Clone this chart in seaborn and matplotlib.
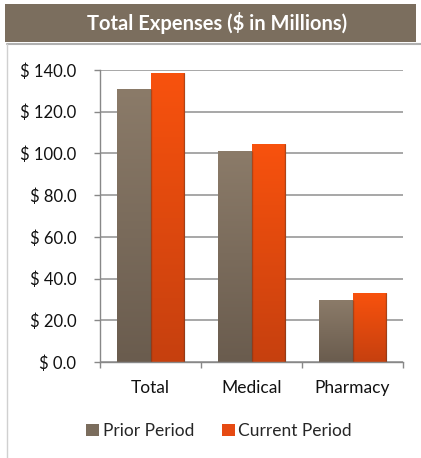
import matplotlib
matplotlib.use("Agg")
import matplotlib.pyplot as plt
import seaborn as sns
import pandas as pd
import numpy as np
from matplotlib.patches import Rectangle
from matplotlib.lines import Line2D
from matplotlib.colors import LinearSegmentedColormap, to_rgb

categories = ["Total", "Medical", "Pharmacy"]
series = ["Prior Period", "Current Period"]
prior_values = [131.0, 101.0, 29.5]
current_values = [138.5, 104.5, 33.0]
yticks = [0, 20, 40, 60, 80, 100, 120, 140]
ytick_labels = ["$ 0.0", "$ 20.0", "$ 40.0", "$ 60.0", "$ 80.0", "$ 100.0", "$ 120.0", "$ 140.0"]
title = "Total Expenses ($ in Millions)"

colors = {"Prior Period": "#7b6d5d", "Current Period": "#e64a12"}
grad = {"Prior Period": ("#6a5c4e", "#8b7b69"), "Current Period": ("#c6400f", "#f8520d")}

df = pd.DataFrame({
    "category": categories * 2,
    "series": [series[0]] * 3 + [series[1]] * 3,
    "value": prior_values + current_values,
})

sns.set_theme(style="white")
plt.rcParams["font.family"] = ["Lato", "DejaVu Sans"]

fig = plt.figure(figsize=(4.21, 4.58), dpi=100)
W, H = 421, 458
ax = fig.add_axes([100 / W, 1 - 362 / H, (403 - 100) / W, (362 - 70) / H])

sns.barplot(data=df, x="category", y="value", hue="series", order=categories,
            hue_order=series, palette=colors, ax=ax, width=0.66, saturation=1,
            legend=False, edgecolor="none")

ax.set_ylim(0, 140)
ax.set_xlim(-0.5, 2.5)

# vertical gradient fill on each bar, clipped to the bar patch
bars = [p for p in ax.patches if isinstance(p, Rectangle)]
for i, p in enumerate(bars):
    s = series[i // len(categories)]
    cmap = LinearSegmentedColormap.from_list("g", [to_rgb(grad[s][0]), to_rgb(grad[s][1])])
    x0, y0 = p.get_x(), p.get_y()
    w, h = p.get_width(), p.get_height()
    g = np.linspace(0, 1, 256).reshape(-1, 1)
    im = ax.imshow(g, cmap=cmap, origin="lower", aspect="auto",
                   extent=[x0, x0 + w, y0, y0 + h], zorder=p.get_zorder() + 0.1)
    im.set_clip_path(p)
    ax.plot([x0 + w, x0 + w], [y0, y0 + h], color="#3a2f25", alpha=0.35, lw=1,
            zorder=p.get_zorder() + 0.2, solid_capstyle="butt")
ax.set_xlim(-0.5, 2.5)
ax.set_ylim(0, 140)

ax.set_yticks(yticks)
ax.set_yticklabels(ytick_labels, fontsize=12, color="#111111")
ax.set_xticks(range(len(categories)))
ax.set_xticklabels(categories, fontsize=12.5, color="#111111")
ax.tick_params(axis="x", which="major", length=0, pad=13)
ax.set_xticks([-0.5, 0.5, 1.5, 2.5], minor=True)
ax.tick_params(axis="x", which="minor", length=4, color="#888888", width=1, direction="out", bottom=True)
ax.tick_params(axis="y", length=4, color="#888888", width=1, direction="out", left=True, pad=13)
ax.set_xlabel("")
ax.set_ylabel("")
ax.yaxis.grid(True, color="#a0a0a0", linewidth=1.3)
ax.set_axisbelow(True)
for s in ["top", "right"]:
    ax.spines[s].set_visible(False)
for s in ["left", "bottom"]:
    ax.spines[s].set_color("#888888")
    ax.spines[s].set_linewidth(1)

# Title band
fig.patches.append(Rectangle((5 / W, 1 - 42 / H), (416 - 5) / W, 38 / H,
                             transform=fig.transFigure, facecolor="#7b6e5e",
                             edgecolor="none", zorder=0))
fig.text(217 / W, 1 - 23 / H, title, ha="center", va="center", color="white",
         fontsize=14.5, fontweight="bold")
# frame lines
fig.lines.append(Line2D([7 / W, 1.0], [1 - 44 / H, 1 - 44 / H], transform=fig.transFigure,
                        color="#b0b0b0", linewidth=1.5))
fig.lines.append(Line2D([7 / W, 7 / W], [1 - 44 / H, 0], transform=fig.transFigure,
                        color="#d0d0d0", linewidth=1))

handles = [Rectangle((0, 0), 1, 1, facecolor=colors[s], edgecolor="none") for s in series]
fig.legend(handles, series, loc="center", bbox_to_anchor=(219 / W, 1 - 431 / H), ncol=2,
           frameon=False, fontsize=12.5, handlelength=0.75, handleheight=0.75,
           handletextpad=0.2, columnspacing=1.6)

fig.savefig("out.png", dpi=100, facecolor="white")
